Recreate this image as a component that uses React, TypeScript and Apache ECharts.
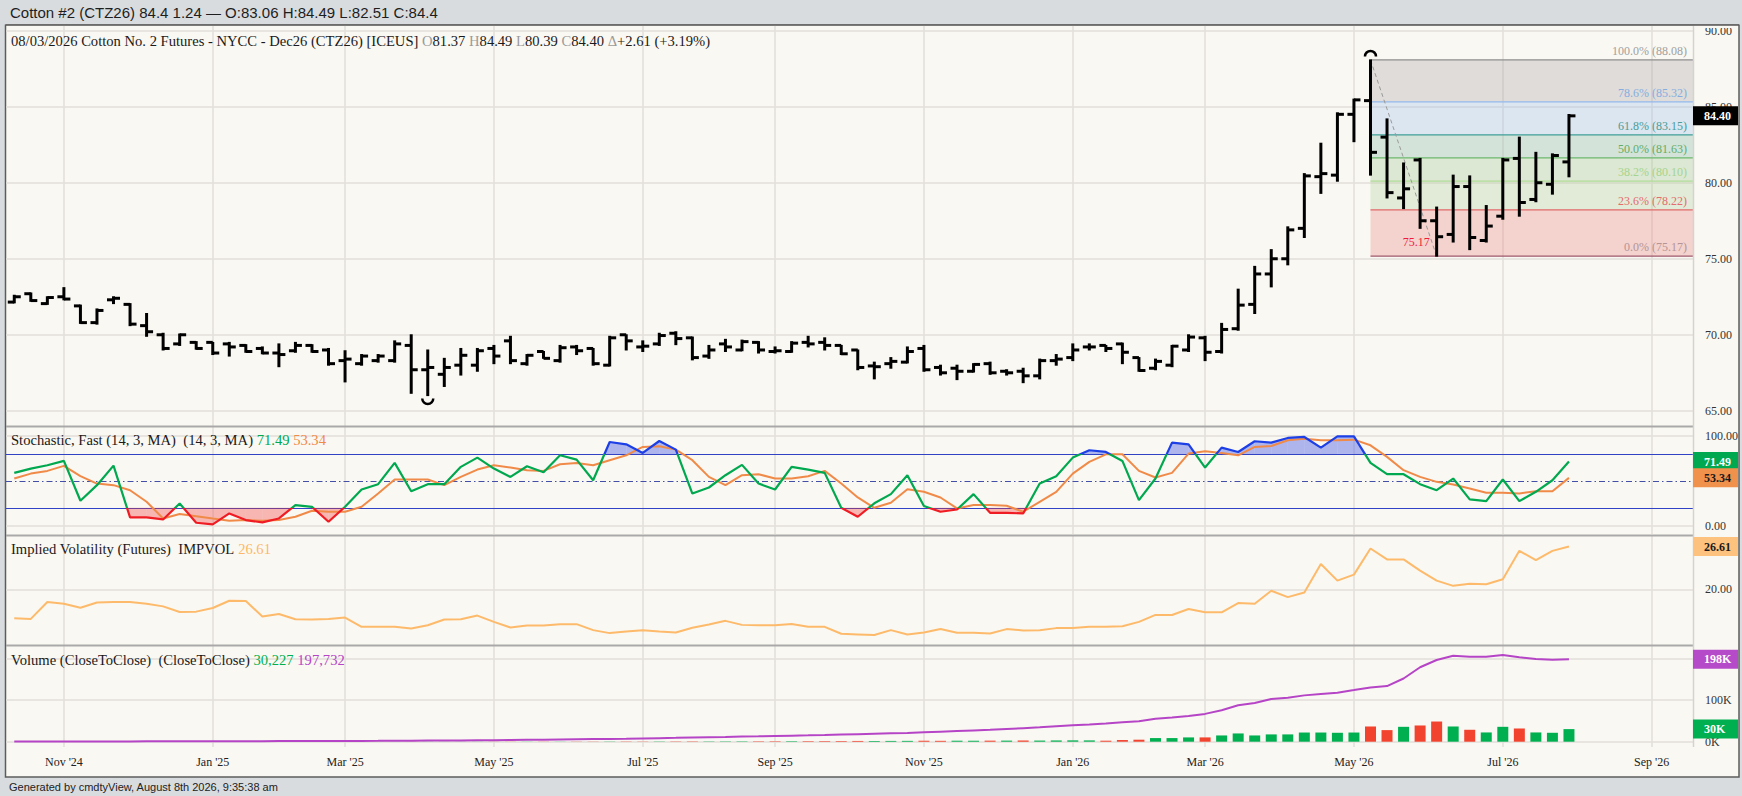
import React, { useEffect, useRef } from 'react';
import * as echarts from 'echarts';

const SERIF = "'Liberation Serif', 'Times New Roman', serif";
const SANS = "'Liberation Sans', Arial, sans-serif";

// weekly categories (Mondays) from 2024-10-14, plus empty future weeks
function buildCategories(n: number): string[] {
  const out: string[] = [];
  const t0 = Date.UTC(2024, 9, 14);
  for (let i = 0; i < n; i++) out.push(new Date(t0 + i * 7 * 86400000).toISOString().slice(0, 10));
  return out;
}
const CATEGORIES = buildCategories(102);

const TICK_LABELS: Record<string, string> = {
  '2024-11-04': "Nov '24", '2025-01-06': "Jan '25", '2025-03-03': "Mar '25", '2025-05-05': "May '25",
  '2025-07-07': "Jul '25", '2025-09-01': "Sep '25", '2025-11-03': "Nov '25", '2026-01-05': "Jan '26",
  '2026-03-02': "Mar '26", '2026-05-04': "May '26", '2026-07-06': "Jul '26", '2026-09-07': "Sep '26",
};

const OPEN = [72.15,72.70,72.05,72.50,71.90,70.80,72.30,72.00,70.60,70.00,
69.40,69.50,69.50,69.40,69.30,69.10,68.80,68.95,69.30,69.00,
68.30,68.10,68.30,68.30,69.30,67.70,67.40,68.00,68.00,69.10,
69.60,68.10,68.90,68.30,69.20,69.10,68.00,70.00,69.20,69.40,
70.10,69.80,68.60,69.40,69.00,69.50,68.90,68.90,69.50,69.50,
69.30,69.00,67.95,68.10,68.20,69.10,67.85,67.80,67.60,68.10,
67.60,67.60,67.30,68.30,68.50,69.20,69.30,69.40,68.50,67.80,
68.00,69.00,69.80,68.90,70.40,72.00,74.00,75.00,77.00,80.40,
80.50,84.50,85.40,83.00,79.00,81.50,77.50,76.60,79.75,76.20,
77.80,81.60,78.90,79.90,81.37];
const HIGH = [72.60,72.75,72.50,73.10,71.95,71.70,72.50,72.05,71.40,70.10,
70.05,69.55,69.50,69.50,69.35,69.20,69.40,69.50,69.35,69.10,
68.95,68.70,68.70,69.60,70.00,69.00,68.45,69.10,69.10,69.30,
69.90,68.70,68.90,69.30,69.30,69.10,69.90,70.00,69.60,70.10,
70.20,69.85,69.30,69.70,69.65,69.55,69.20,69.55,69.90,69.80,
69.30,69.00,68.20,68.50,69.20,69.30,68.00,68.00,68.10,68.20,
67.70,67.80,68.40,68.70,69.40,69.40,69.30,69.45,68.50,68.40,
69.30,70.00,69.90,70.75,73.00,74.50,75.60,77.10,80.60,82.60,
84.60,85.50,88.08,84.20,81.30,81.60,78.40,80.50,80.45,78.50,
81.60,83.00,82.00,81.90,84.49];
const LOW = [72.10,72.20,72.00,72.30,70.75,70.70,72.05,70.60,69.90,69.00,
69.30,69.05,68.70,68.60,68.85,68.75,67.90,68.85,68.85,68.00,
66.90,68.00,68.20,68.20,66.15,66.00,66.60,67.35,67.60,68.10,
68.10,68.00,68.45,68.20,68.70,68.00,67.95,69.00,68.90,69.30,
69.35,68.35,68.45,68.90,68.95,68.80,68.80,68.85,69.20,69.00,
68.70,67.70,67.10,67.80,68.15,67.60,67.35,67.05,67.55,67.40,
67.35,66.85,67.10,68.00,68.30,69.00,68.90,68.10,67.60,67.70,
67.90,68.90,68.30,68.80,70.30,71.40,73.15,74.60,76.40,79.30,
80.10,82.70,80.50,79.00,78.30,77.00,75.17,76.10,75.60,76.10,
77.60,77.80,78.75,79.25,80.39];
const CLOSE = [72.50,72.25,72.45,72.35,70.80,71.60,72.40,70.70,70.20,69.10,
70.00,69.10,68.80,69.20,68.90,68.80,68.70,69.30,68.90,68.10,
68.40,68.60,68.60,69.40,67.70,67.85,67.85,68.65,68.95,68.60,
68.30,68.65,68.45,69.15,68.95,68.10,69.80,69.60,69.25,69.95,
69.75,68.50,69.00,69.20,69.55,69.00,68.95,69.45,69.40,69.30,
68.75,67.85,67.90,68.25,68.90,67.70,67.50,67.60,68.05,67.50,
67.50,67.30,68.30,68.40,69.00,69.20,69.10,68.85,67.65,68.25,
69.25,69.85,68.85,70.35,71.95,74.00,75.00,76.90,80.45,80.60,
84.50,85.45,82.00,79.35,79.60,77.50,76.45,79.75,76.40,77.15,
81.50,78.70,80.00,81.79,84.40];

const STOCH_K = [58.9,63.7,67.4,72.2,27.8,45.2,67.0,9.3,9.3,7.0,
24.8,3.3,1.5,13.7,6.3,3.7,8.1,23.0,21.1,4.4,
21.1,40.4,46.3,70.0,38.5,46.3,46.3,65.6,75.9,63.7,
54.4,66.3,59.6,78.5,73.7,50.7,93.3,90.7,81.1,94.4,
84.8,35.9,42.6,56.3,67.8,47.0,40.4,65.6,62.6,58.9,
20.0,10.0,25.0,35.2,56.3,21.9,15.6,18.1,35.2,14.4,
14.4,13.7,47.0,55.2,75.9,84.1,82.2,72.2,28.5,52.6,
92.6,90.7,64.8,87.0,82.2,94.1,92.6,97.8,98.9,87.0,
99.6,99.6,70.0,57.4,57.4,46.3,39.6,52.6,29.3,27.4,
51.5,27.4,37.8,50.7,71.49];
const STOCH_D = [52.6,58.1,61.1,66.7,55.2,47.0,45.2,39.6,26.7,8.1,
13.0,10.7,8.1,5.6,6.3,5.6,6.3,10.0,16.7,15.6,
15.6,21.1,35.9,51.5,51.5,51.5,45.2,54.4,62.6,67.4,
64.8,61.9,61.1,68.5,70.0,67.4,73.0,78.5,87.8,88.5,
84.8,73.0,54.4,45.2,56.3,57.4,52.6,52.6,55.2,61.1,
47.0,31.5,20.0,25.6,40.7,37.8,31.5,19.3,23.0,23.0,
22.2,15.6,26.7,37.8,58.1,71.1,79.6,79.6,61.1,53.7,
58.9,80.4,83.0,81.1,78.5,87.8,88.9,95.2,97.0,95.2,
95.2,95.9,89.6,76.7,61.9,54.4,48.9,45.9,41.5,36.7,
36.7,35.9,38.5,38.5,53.34];

const IMPVOL = [15.57,15.47,18.07,17.81,17.2,18.0,18.07,18.07,17.81,17.4,
16.54,16.59,17.15,18.27,18.22,15.83,16.23,15.42,15.37,15.47,
15.67,14.25,14.25,14.25,14.0,14.5,15.37,15.42,15.98,15.01,
14.15,14.45,14.45,14.66,14.66,13.74,13.28,13.54,13.74,13.54,
13.38,14.1,14.6,15.17,14.55,14.5,14.5,14.7,14.25,14.25,
13.18,13.08,12.98,13.74,13.08,13.38,13.9,13.33,13.33,13.23,
13.9,13.69,13.74,14.05,14.05,14.25,14.25,14.35,15.01,16.08,
16.08,17.0,16.49,16.49,17.91,17.81,19.8,18.83,19.54,23.92,
21.37,22.29,26.31,24.63,24.63,22.9,21.37,20.56,20.87,20.81,
21.58,25.95,24.53,25.95,26.61];

const VOLUME = [0,0,0,0,0,0,0,0,0,0,
0,0,0,0,0,0,0,0,0,0,
100,100,150,150,200,300,200,200,250,250,
300,300,350,300,400,400,500,600,500,600,
700,800,700,800,900,1000,1100,1200,1300,1400,
1500,1800,1700,1900,2000,2300,2100,2400,2300,2500,
2600,2800,2700,3000,3200,3100,2400,4000,4800,8700,
8700,10300,10300,15000,19800,15000,17500,17500,22000,22000,
21400,22000,36500,27800,35700,38900,48400,36500,28600,22200,
35700,31700,22200,21400,30227];

const OPEN_INT = [500,550,600,620,650,700,720,750,800,850,
900,950,1000,1100,1200,1300,1400,1500,1600,1700,
1800,1900,2000,2200,2400,2600,2800,3000,3300,3600,
4000,4400,4800,5200,5700,6200,6700,7200,7800,8500,
9200,10000,10800,11500,12300,13000,13800,14500,15200,16000,
17000,18000,19000,20000,21000,22500,24000,25500,27000,28500,
30500,32500,34500,37000,39500,41500,43700,46800,49200,54800,
57900,61900,66700,75400,87300,92900,102400,105600,111100,114300,
117500,123800,130200,133300,151600,178600,196000,206300,204000,204000,
207900,202400,198400,196800,197732];

// Fibonacci retracement (swing high bar 82 -> swing low bar 86)
const FIB_START = 82;
const FIB_LOW_INDEX = 86;
const FIB_PCT = ['100.0%', '78.6%', '61.8%', '50.0%', '38.2%', '23.6%', '0.0%'];
const FIB_PRICES = [88.08, 85.32, 83.15, 81.63, 80.10, 78.22, 75.17];
const FIB_FILLS = ['rgba(163,155,159,0.3)', 'rgba(153,188,235,0.3)', 'rgba(127,178,162,0.3)',
  'rgba(153,195,139,0.3)', 'rgba(173,205,152,0.3)', 'rgba(233,121,122,0.3)'];
const FIB_LINES = ['#8e8e8e', '#94b8ea', '#3f9f98', '#6cb86c', '#b0dc98', '#e06a6a', '#a05a6e'];
const FIB_TEXT = ['#a0a0a0', '#86ade0', '#4a9c97', '#62ad62', '#a6d48c', '#e46c6c', '#b49494'];
const SWING_LOW_INDEX = 25;

const MAIN_GRID_LINES = [65, 70, 75, 80, 85, 90];

const CREAM = '#faf8f2';
const GRID_COLOR = '#e2dfda';
const LABEL_SIZE = 14.6;

function vLines() {
  return Object.keys(TICK_LABELS).map((c) => ({ xAxis: c }));
}
function hLines(vals: number[]) {
  return vals.map((v) => ({ yAxis: v }));
}
function gridMarkLine(data: any[]) {
  return {
    silent: true, symbol: ['none', 'none'], label: { show: false }, z: 1, animation: false,
    lineStyle: { color: GRID_COLOR, width: 1.5, type: 'solid' }, data,
  };
}

function buildOption() {
  const L = 6, R = 49;
  const grids = [
    { left: L, right: R, top: 25, height: 401 },
    { left: L, right: R, top: 427, height: 107 },
    { left: L, right: R, top: 536, height: 109 },
    { left: L, right: R, top: 646, height: 101 },
  ];
  const xAxis = grids.map((_, k) => ({
    type: 'category', gridIndex: k, data: CATEGORIES, boundaryGap: true,
    axisLine: { show: false }, axisTick: { show: false }, splitLine: { show: false },
    axisLabel: k === 3 ? {
      show: true, interval: (idx: number) => !!TICK_LABELS[CATEGORIES[idx]],
      formatter: (v: string) => TICK_LABELS[v] || '', color: '#222', fontFamily: SERIF, fontSize: 12, margin: 9,
    } : { show: false },
  }));
  const yBase = (k: number, min: number, max: number, fmt: (v: number) => string, splitNumber = 5) => ({
    type: 'value', gridIndex: k, position: 'right', min, max, splitNumber,
    splitLine: { show: false }, axisLine: { show: false }, axisTick: { show: false },
    axisLabel: { formatter: fmt, color: '#333', fontFamily: SERIF, fontSize: 12, margin: 12 },
  });
  const yAxis = [
    yBase(0, 64, 90.375, (v) => (v >= 65 && v <= 90 && Math.abs(v % 5) < 1e-6 ? v.toFixed(2) : '')),
    yBase(1, -9.2, 110, (v) => (v === 0 || v === 100 ? v.toFixed(2) : '')),
    yBase(2, 11.45, 28.24, (v) => (v === 20 ? '20.00' : ''), 3),
    yBase(3, -12700, 229500, (v) => (v === 0 || v === 100000 ? v / 1000 + 'K' : '')),
  ];

  const series: any[] = [
    // 0: fibonacci bands
    {
      type: 'custom', xAxisIndex: 0, yAxisIndex: 0, z: 1, silent: true,
      data: FIB_PRICES.map((p, k) => [FIB_START, p, k]),
      encode: { x: 0, y: 1 },
      renderItem: (params: any, api: any) => {
        const k = api.value(2);
        const p0 = api.coord([api.value(0), api.value(1)]);
        const cs = params.coordSys;
        const xr = cs.x + cs.width;
        const children: any[] = [];
        if (k < FIB_PRICES.length - 1) {
          const y2 = api.coord([api.value(0), FIB_PRICES[k + 1]])[1];
          children.push({ type: 'rect', shape: { x: p0[0], y: p0[1], width: xr - p0[0], height: y2 - p0[1] }, style: { fill: FIB_FILLS[k] } });
        }
        children.push({ type: 'line', shape: { x1: p0[0], y1: p0[1], x2: xr, y2: p0[1] }, style: { stroke: FIB_LINES[k], lineWidth: 1.3 } });
        children.push({
          type: 'text', x: xr - 6, y: p0[1] - 3,
          style: { text: `${FIB_PCT[k]} (${FIB_PRICES[k].toFixed(2)})`, fill: FIB_TEXT[k], fontSize: 12, fontFamily: SERIF, align: 'right', verticalAlign: 'bottom' },
        });
        return { type: 'group', children };
      },
    },
    // 1: helper line for main gridlines
    {
      type: 'line', xAxisIndex: 0, yAxisIndex: 0, z: 2, silent: true, data: CLOSE,
      showSymbol: false, lineStyle: { opacity: 0 },
      markLine: gridMarkLine([...hLines(MAIN_GRID_LINES), ...vLines()]),
    },
    // 2: dashed fib diagonal
    {
      type: 'line', xAxisIndex: 0, yAxisIndex: 0, z: 4, silent: true, showSymbol: false,
      data: [[CATEGORIES[FIB_START], HIGH[FIB_START]], [CATEGORIES[FIB_LOW_INDEX], LOW[FIB_LOW_INDEX]]],
      lineStyle: { color: '#9a9a9a', width: 1, type: [4, 3] },
    },
    // 3: OHLC bars
    {
      type: 'custom', xAxisIndex: 0, yAxisIndex: 0, z: 10, silent: true,
      data: OPEN.map((o, i) => [i, o, HIGH[i], LOW[i], CLOSE[i]]),
      encode: { x: 0, y: [1, 2, 3, 4] },
      renderItem: (params: any, api: any) => {
        const i = api.value(0);
        const o = api.coord([i, api.value(1)]);
        const h = api.coord([i, api.value(2)]);
        const l = api.coord([i, api.value(3)]);
        const c = api.coord([i, api.value(4)]);
        const x = h[0];
        return {
          type: 'group', children: [
            { type: 'line', shape: { x1: x, y1: h[1] - 0.5, x2: x, y2: l[1] + 0.5 }, style: { stroke: '#000', lineWidth: 3 } },
            { type: 'line', shape: { x1: x - 6.5, y1: o[1], x2: x, y2: o[1] }, style: { stroke: '#000', lineWidth: 3 } },
            { type: 'line', shape: { x1: x, y1: c[1], x2: x + 6.5, y2: c[1] }, style: { stroke: '#000', lineWidth: 3 } },
          ],
        };
      },
    },
    // 4: swing markers + low label
    {
      type: 'custom', xAxisIndex: 0, yAxisIndex: 0, z: 11, silent: true,
      data: [[SWING_LOW_INDEX, LOW[SWING_LOW_INDEX], 0], [FIB_START, HIGH[FIB_START], 1], [FIB_LOW_INDEX, LOW[FIB_LOW_INDEX], 2]],
      encode: { x: 0, y: 1 },
      renderItem: (params: any, api: any) => {
        const kind = api.value(2);
        const p = api.coord([api.value(0), api.value(1)]);
        if (kind === 0) {
          return { type: 'arc', shape: { cx: p[0], cy: p[1] + 3, r: 5.5, startAngle: 0, endAngle: Math.PI, clockwise: true }, style: { stroke: '#000', lineWidth: 2.5, fill: 'none' } };
        }
        if (kind === 1) {
          return { type: 'arc', shape: { cx: p[0], cy: p[1] - 3.5, r: 5.5, startAngle: Math.PI, endAngle: Math.PI * 2, clockwise: true }, style: { stroke: '#000', lineWidth: 2.5, fill: 'none' } };
        }
        return { type: 'text', x: p[0] - 7, y: p[1] - 14, style: { text: api.value(1).toFixed(2), fill: '#ee1c3a', fontSize: 12, fontFamily: SERIF, align: 'right', verticalAlign: 'middle' } };
      },
    },
    // 5: stochastic fills
    {
      type: 'custom', xAxisIndex: 1, yAxisIndex: 1, z: 1, silent: true,
      data: STOCH_K.slice(0, -1).map((k, i) => [i, k, STOCH_K[i + 1]]),
      encode: { x: 0, y: [1, 2] },
      renderItem: (params: any, api: any) => {
        const i = api.value(0), a = api.value(1), b = api.value(2);
        const p0 = api.coord([i, a]);
        const p1 = api.coord([i + 1, b]);
        const children: any[] = [];
        const band = (th: number, above: boolean, color: string) => {
          const yt = api.coord([i, th])[1];
          const inA = above ? a > th : a < th;
          const inB = above ? b > th : b < th;
          if (!inA && !inB) return;
          let pts: number[][];
          if (inA && inB) pts = [[p0[0], yt], p0, p1, [p1[0], yt]];
          else {
            const t = (th - a) / (b - a);
            const xc = p0[0] + t * (p1[0] - p0[0]);
            pts = inA ? [[p0[0], yt], p0, [xc, yt]] : [[xc, yt], p1, [p1[0], yt]];
          }
          children.push({ type: 'polygon', shape: { points: pts }, style: { fill: color } });
        };
        band(80, true, 'rgba(60,80,230,0.4)');
        band(20, false, 'rgba(240,60,60,0.35)');
        return { type: 'group', children };
      },
    },
    // 6: %D
    {
      type: 'line', name: 'D', xAxisIndex: 1, yAxisIndex: 1, z: 3, silent: true, showSymbol: false,
      data: STOCH_D, lineStyle: { color: '#f08a48', width: 2 },
      markLine: {
        silent: true, symbol: ['none', 'none'], label: { show: false }, z: 1, animation: false,
        data: [
          ...hLines([0, 100]).map((d) => ({ ...d, lineStyle: { color: GRID_COLOR, width: 1.5, type: 'solid' } })),
          ...vLines().map((d) => ({ ...d, lineStyle: { color: GRID_COLOR, width: 1.5, type: 'solid' } })),
          { yAxis: 80, lineStyle: { color: '#3242c4', width: 1.2, type: 'solid' } },
          { yAxis: 20, lineStyle: { color: '#3242c4', width: 1.2, type: 'solid' } },
          { yAxis: 50, lineStyle: { color: '#4450a8', width: 1.2, type: [6, 3, 1.5, 3] } },
        ],
      },
    },
    // 7: %K
    {
      type: 'line', name: 'K', xAxisIndex: 1, yAxisIndex: 1, z: 4, silent: true, showSymbol: false,
      data: STOCH_K.map((v, i) => [i, v]), lineStyle: { width: 2.2 },
    },
    // 8: implied volatility
    {
      type: 'line', xAxisIndex: 2, yAxisIndex: 2, z: 3, silent: true, showSymbol: false,
      data: IMPVOL, lineStyle: { color: '#fdba6b', width: 2 },
      markLine: gridMarkLine([...hLines([20]), ...vLines()]),
    },
    // 9: volume
    {
      type: 'bar', xAxisIndex: 3, yAxisIndex: 3, z: 3, silent: true, barWidth: 11,
      data: VOLUME,
      itemStyle: { color: (p: any) => (p.dataIndex === 0 || CLOSE[p.dataIndex] >= CLOSE[p.dataIndex - 1] ? '#00b050' : '#f2432e') },
      markLine: gridMarkLine([...hLines([0, 100000, 200000]), ...vLines()]),
    },
    // 10: open interest
    {
      type: 'line', xAxisIndex: 3, yAxisIndex: 3, z: 4, silent: true, showSymbol: false,
      data: OPEN_INT, lineStyle: { color: '#b545c6', width: 2 },
    },
  ];

  return {
    animation: false,
    backgroundColor: 'transparent',
    grid: grids,
    xAxis, yAxis, series,
    visualMap: [{
      type: 'piecewise', show: false, seriesIndex: 7, dimension: 1,
      pieces: [
        { lt: 20, color: '#f01c24' },
        { gte: 20, lte: 80, color: '#00a84f' },
        { gt: 80, color: '#1d3fe6' },
      ],
    }],
  };
}

function staticGraphics(): any[] {
  const label = (id: string, y: number, text: string, rich: any) => ({
    type: 'text', id, x: 11, y, z: 30, silent: true,
    style: { text, rich, fontSize: LABEL_SIZE, fontFamily: SERIF, fill: '#1a1a1a', verticalAlign: 'middle' },
  });
  const tok = (fill: string) => ({ fill, fontSize: LABEL_SIZE, fontFamily: SERIF });
  const k = tok('#1a1a1a');
  return [
    { type: 'rect', id: 'bg', z: -10, silent: true, shape: { x: 5.5, y: 24.5, width: 1733.5, height: 752.5 }, style: { fill: CREAM, stroke: '#5c5c5c', lineWidth: 1.5 } },
    { type: 'rect', id: 'titlebar', z: 50, silent: true, shape: { x: 0, y: 0, width: 1742, height: 24.5 }, style: { fill: '#d8dcdf' } },
    { type: 'line', id: 'topborder', z: 50, silent: true, shape: { x1: 5.5, y1: 25, x2: 1739, y2: 25 }, style: { stroke: '#5c5c5c', lineWidth: 1.5 } },
    { type: 'rect', id: 'labelcut', z: 49, silent: true, shape: { x: 1694.5, y: 25.5, width: 43.5, height: 2.5 }, style: { fill: CREAM } },
    { type: 'text', id: 'title', z: 51, silent: true, x: 10, y: 12.5, style: { text: 'Cotton #2 (CTZ26) 84.4 1.24 \u2014 O:83.06 H:84.49 L:82.51 C:84.4', fontSize: 15, fontFamily: SANS, fill: '#1e1e1e', verticalAlign: 'middle' } },
    { type: 'text', id: 'footer', z: 51, silent: true, x: 9, y: 786.5, style: { text: 'Generated by cmdtyView, August 8th 2026, 9:35:38 am', fontSize: 11, fontFamily: SANS, fill: '#222', verticalAlign: 'middle' } },
    { type: 'line', id: 'sep1', z: 20, silent: true, shape: { x1: 6, y1: 426.5, x2: 1693, y2: 426.5 }, style: { stroke: '#a9a9a9', lineWidth: 2 } },
    { type: 'line', id: 'sep2', z: 20, silent: true, shape: { x1: 6, y1: 535.5, x2: 1693, y2: 535.5 }, style: { stroke: '#a9a9a9', lineWidth: 2 } },
    { type: 'line', id: 'sep3', z: 20, silent: true, shape: { x1: 6, y1: 645.5, x2: 1693, y2: 645.5 }, style: { stroke: '#a9a9a9', lineWidth: 2 } },
    { type: 'line', id: 'rightedge', z: 20, silent: true, shape: { x1: 1693.5, y1: 25.5, x2: 1693.5, y2: 747 }, style: { stroke: '#d3d3d3', lineWidth: 1.5 } },
    label('hdr', 41,
      '{k|08/03/2026 Cotton No. 2 Futures - NYCC - Dec26 (CTZ26) [ICEUS]} {g|O}{k|81.37} {g|H}{k|84.49} {g|L}{k|80.39} {g|C}{k|84.40} {g|\u0394}{k|+2.61 (+3.19%)}',
      { k, g: tok('#9b9b9b') }),
    label('stl', 440, '{k|Stochastic, Fast (14, 3, MA)  (14, 3, MA)} {gr|71.49} {or|53.34}',
      { k, gr: tok('#00a84f'), or: tok('#f08a48') }),
    label('ivl', 549, '{k|Implied Volatility (Futures)  IMPVOL} {lo|26.61}',
      { k, lo: tok('#fdb866') }),
    label('vol', 660, '{k|Volume (CloseToClose)  (CloseToClose)} {gr|30,227} {pu|197,732}',
      { k, gr: tok('#00b050'), pu: tok('#b545c6') }),
  ];
}

export default function App() {
  const ref = useRef<HTMLDivElement>(null);
  useEffect(() => {
    const el = ref.current;
    if (!el) return;
    const chart = echarts.init(el, undefined, { renderer: 'svg' });
    chart.setOption(buildOption() as any);
    const badge = (id: string, axis: number, value: number, text: string, bg: string, fg: string, z: number) => {
      const y = chart.convertToPixel({ yAxisIndex: axis } as any, value) as unknown as number;
      return [
        { type: 'rect', id: id + '_r', z, silent: true, shape: { x: 1693, y: y - 9.5, width: 45, height: 19 }, style: { fill: bg } },
        { type: 'text', id: id + '_t', z: z + 1, silent: true, x: 1704, y, style: { text, fill: fg, fontSize: 12, fontWeight: 'bold', fontFamily: SERIF, verticalAlign: 'middle' } },
      ];
    };
    const lastK = STOCH_K[STOCH_K.length - 1];
    const lastD = STOCH_D[STOCH_D.length - 1];
    const lastC = CLOSE[CLOSE.length - 1];
    const lastIV = IMPVOL[IMPVOL.length - 1];
    const lastOI = OPEN_INT[OPEN_INT.length - 1];
    const lastV = VOLUME[VOLUME.length - 1];
    const elements = [
      ...staticGraphics(),
      ...badge('bc', 0, lastC, lastC.toFixed(2), '#000000', '#ffffff', 60),
      ...badge('bk', 1, lastK, lastK.toFixed(2), '#00a84f', '#ffffff', 60),
      ...badge('bd', 1, lastD, lastD.toFixed(2), '#f0914c', '#1a1a1a', 62),
      ...badge('biv', 2, lastIV, lastIV.toFixed(2), '#fdc27e', '#1a1a1a', 60),
      ...badge('boi', 3, lastOI, Math.round(lastOI / 1000) + 'K', '#b54bc8', '#ffffff', 60),
      ...badge('bv', 3, lastV, Math.round(lastV / 1000) + 'K', '#00b050', '#ffffff', 60),
    ];
    chart.setOption({ graphic: { elements } } as any);
    return () => chart.dispose();
  }, []);
  return (
    <div style={{ position: 'fixed', left: 0, top: 0, width: 1742, height: 796, background: '#d8dcdf' }}>
      <div ref={ref} style={{ width: 1742, height: 796 }} />
    </div>
  );
}
